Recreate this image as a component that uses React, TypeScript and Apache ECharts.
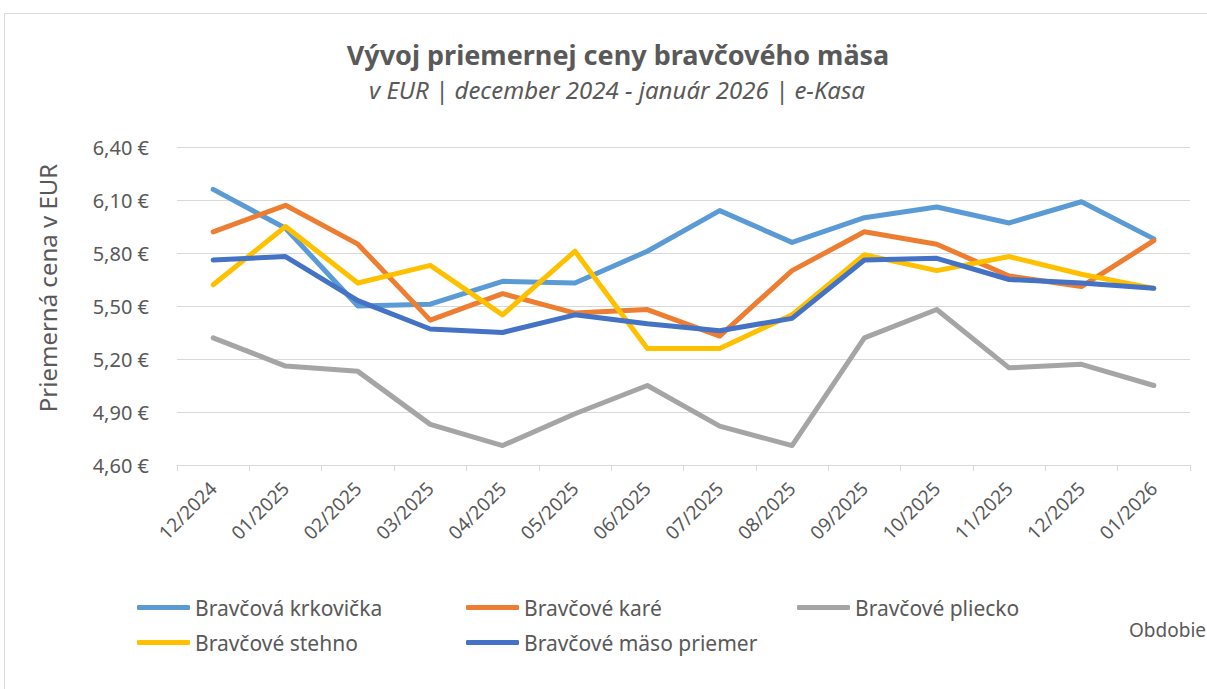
import React, { useEffect, useRef } from 'react';
import * as echarts from 'echarts';

const categories = ['12/2024', '01/2025', '02/2025', '03/2025', '04/2025', '05/2025', '06/2025', '07/2025', '08/2025', '09/2025', '10/2025', '11/2025', '12/2025', '01/2026'];
const seriesNames = ['Bravčová krkovička', 'Bravčové karé', 'Bravčové pliecko', 'Bravčové stehno', 'Bravčové mäso priemer'];
const krkovicka = [6.16, 5.94, 5.50, 5.51, 5.64, 5.63, 5.81, 6.04, 5.86, 6.00, 6.06, 5.97, 6.09, 5.88];
const kare = [5.92, 6.07, 5.85, 5.42, 5.57, 5.46, 5.48, 5.33, 5.70, 5.92, 5.85, 5.67, 5.61, 5.87];
const pliecko = [5.32, 5.16, 5.13, 4.83, 4.71, 4.89, 5.05, 4.82, 4.71, 5.32, 5.48, 5.15, 5.17, 5.05];
const stehno = [5.62, 5.95, 5.63, 5.73, 5.45, 5.81, 5.26, 5.26, 5.45, 5.79, 5.70, 5.78, 5.68, 5.60];
const priemer = [5.76, 5.78, 5.53, 5.37, 5.35, 5.45, 5.40, 5.36, 5.43, 5.76, 5.77, 5.65, 5.63, 5.60];
const seriesValues = [krkovicka, kare, pliecko, stehno, priemer];
const colors = ['#5B9BD5', '#ED7D31', '#A5A5A5', '#FFC000', '#4472C4'];
const yMin = 4.6;
const yMax = 6.4;
const yStep = 0.3;

const title = 'Vývoj priemernej ceny bravčového mäsa';
const subtitle = 'v EUR | december 2024 - január 2026 | e-Kasa';
const yAxisTitle = 'Priemerná cena v EUR';
const xAxisTitle = 'Obdobie';

const FONT = "'Noto Sans', sans-serif";
const TEXT = '#595959';
const GRID = '#D9D9D9';

// legend slot positions (left, top) for each series
const legendSlots = [
  [137, 597],
  [466, 597],
  [797, 597],
  [137, 632],
  [466, 632],
];

export default function App() {
  const ref = useRef<HTMLDivElement>(null);
  useEffect(() => {
    const chart = echarts.init(ref.current!, null, { renderer: 'svg' });
    chart.setOption({
      animation: false,
      color: colors,
      textStyle: { fontFamily: FONT },
      title: [
        {
          text: title,
          left: 613,
          textAlign: 'center',
          top: 36,
          textStyle: { fontSize: 27, fontWeight: 'bold', color: TEXT, fontFamily: FONT },
        },
        {
          text: subtitle,
          left: 612,
          textAlign: 'center',
          top: 72,
          textStyle: { fontSize: 24, fontStyle: 'italic', fontWeight: 'normal', color: TEXT, fontFamily: FONT },
        },
      ],
      legend: seriesNames.map((name, i) => ({
        left: legendSlots[i][0],
        top: legendSlots[i][1],
        padding: 0,
        itemWidth: 53,
        itemHeight: 5,
        itemGap: 0,
        icon: 'roundRect',
        data: [name],
        textStyle: { fontSize: 21, color: TEXT, fontFamily: FONT },
      })),
      grid: { left: 177, right: 17, top: 147, bottom: 224, containLabel: false },
      xAxis: {
        type: 'category',
        data: categories,
        boundaryGap: true,
        axisLine: { lineStyle: { color: GRID, width: 1 } },
        axisTick: { show: true, length: 6, lineStyle: { color: GRID } },
        axisLabel: { rotate: 45, interval: 0, fontSize: 19, color: TEXT, margin: 20, fontFamily: FONT },
      },
      yAxis: {
        type: 'value',
        min: yMin,
        max: yMax,
        interval: yStep,
        axisLine: { show: false },
        axisTick: { show: false },
        splitLine: { lineStyle: { color: GRID, width: 1 } },
        axisLabel: {
          fontSize: 20,
          color: TEXT,
          margin: 28,
          fontFamily: FONT,
          formatter: (v: number) => v.toFixed(2).replace('.', ',') + ' €',
        },
      },
      graphic: [
        {
          type: 'rect',
          silent: true,
          shape: { x: 4.5, y: 13.5, width: 1300, height: 800 },
          style: { fill: 'none', stroke: GRID, lineWidth: 1 },
        },
        {
          type: 'text',
          x: 47,
          y: 288,
          rotation: Math.PI / 2,
          style: { text: yAxisTitle, fontSize: 24, fill: TEXT, fontFamily: FONT, textAlign: 'center', textVerticalAlign: 'middle' },
        },
        {
          type: 'text',
          x: 1129,
          y: 630,
          style: { text: xAxisTitle, fontSize: 19, fill: TEXT, fontFamily: FONT, textAlign: 'left', textVerticalAlign: 'middle' },
        },
      ],
      series: seriesNames.map((name, i) => ({
        name,
        type: 'line',
        data: seriesValues[i],
        showSymbol: false,
        symbol: 'none',
        lineStyle: { width: 5, color: colors[i], cap: 'round', join: 'round' },
        itemStyle: { color: colors[i] },
        z: 2 + i,
      })),
    });
    return () => chart.dispose();
  }, []);
  return <div ref={ref} style={{ position: 'absolute', left: 0, top: 0, width: 1207, height: 689 }} />;
}
